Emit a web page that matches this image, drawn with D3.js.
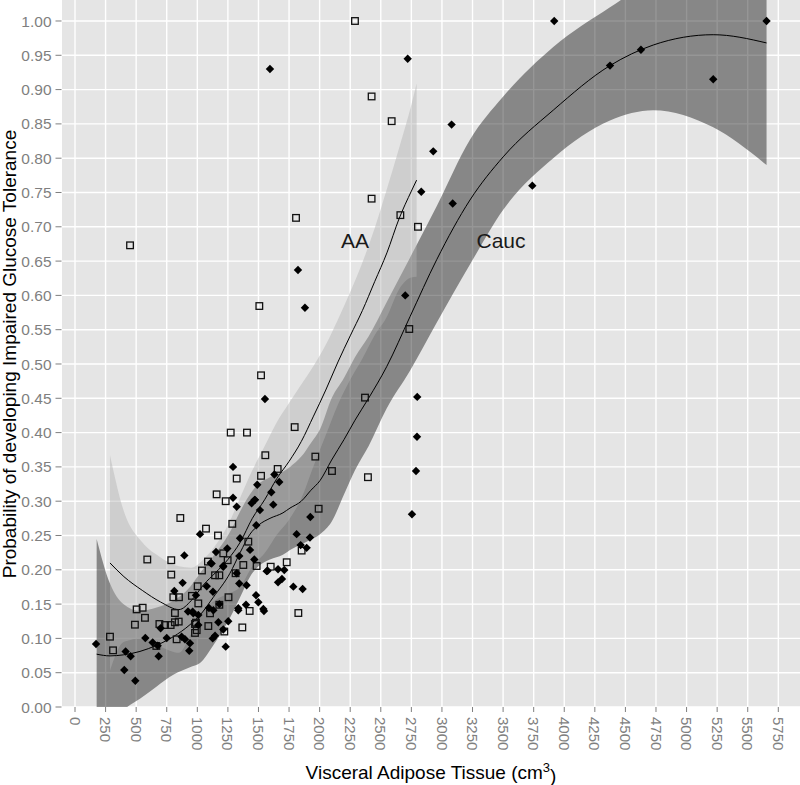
<!DOCTYPE html>
<html>
<head>
<meta charset="utf-8">
<script src="https://cdn.jsdelivr.net/npm/d3@7"></script>
<style>
  body { margin: 0; background: #fff; }
  text { font-family: "Liberation Sans", Arial, sans-serif; }
</style>
</head>
<body>
<div id="chart"></div>
<script>
// fitted curve for AA (smooth + confidence band)
const aaFitX  = [286, 400, 550, 700, 850, 950, 1050, 1150, 1250, 1350, 1450, 1550, 1650, 1750, 1850, 1950, 2050, 2150, 2250, 2350, 2450, 2550, 2650, 2750, 2793]
const aaFitY  = [0.210, 0.190, 0.170, 0.153, 0.142, 0.155, 0.178, 0.196, 0.215, 0.240, 0.275, 0.302, 0.333, 0.358, 0.387, 0.424, 0.462, 0.503, 0.541, 0.578, 0.620, 0.662, 0.712, 0.752, 0.768]
const aaFitHi = [0.367, 0.285, 0.240, 0.218, 0.205, 0.203, 0.215, 0.236, 0.265, 0.305, 0.345, 0.380, 0.415, 0.443, 0.470, 0.497, 0.528, 0.565, 0.605, 0.648, 0.698, 0.755, 0.815, 0.878, 0.909]
const aaFitLo = [0.053, 0.095, 0.100, 0.088, 0.079, 0.107, 0.141, 0.156, 0.165, 0.175, 0.205, 0.224, 0.251, 0.273, 0.304, 0.351, 0.396, 0.441, 0.477, 0.508, 0.542, 0.569, 0.609, 0.626, 0.627]

// fitted curve for Cauc
const caucFitX  = [177, 286, 395, 531, 668, 804, 940, 1022, 1131, 1267, 1350, 1431, 1500, 1594, 1700, 1758, 1850, 1929, 2003, 2098, 2200, 2289, 2400, 2548, 2739, 2957, 3229, 3501, 3910, 4374, 4728, 5218, 5654]
const caucFitY  = [0.077, 0.0745, 0.076, 0.081, 0.090, 0.1025, 0.120, 0.134, 0.160, 0.195, 0.225, 0.252, 0.265, 0.275, 0.283, 0.290, 0.300, 0.316, 0.330, 0.360, 0.390, 0.418, 0.450, 0.496, 0.569, 0.652, 0.739, 0.802, 0.870, 0.935, 0.965, 0.980, 0.968]
const caucFitHi = [0.245, 0.180, 0.150, 0.140, 0.145, 0.155, 0.175, 0.195, 0.220, 0.255, 0.285, 0.310, 0.325, 0.335, 0.343, 0.350, 0.365, 0.385, 0.405, 0.450, 0.480, 0.510, 0.540, 0.590, 0.655, 0.730, 0.827, 0.890, 0.962, 1.020, 1.060, 1.100, 1.150]
const caucFitLo = [-0.090, -0.030, -0.005, 0.012, 0.030, 0.047, 0.058, 0.064, 0.090, 0.130, 0.160, 0.190, 0.205, 0.215, 0.222, 0.229, 0.237, 0.244, 0.252, 0.270, 0.310, 0.345, 0.380, 0.435, 0.490, 0.560, 0.645, 0.725, 0.800, 0.855, 0.870, 0.845, 0.790]

// AA subjects (open squares)
const aaX = [2289, 2425, 2589, 2425, 2660, 2804, 2733, 2371, 450, 1807, 1507, 1521, 1273, 1406, 1796, 1556, 1965, 1657, 2101, 1521, 1322, 2395, 1992,
  1158, 1232, 861, 1286, 1071, 1169, 1417, 1853, 1212, 591, 787, 1087, 1248, 1731, 1376, 1485, 1600, 1038, 787, 1145, 1180, 1313, 1003, 1255,
  804, 850, 956, 1008, 1180, 1428, 1826, 1104, 817, 504, 553, 572, 490, 690, 736, 782, 817, 848, 981, 1090, 1368, 1221, 995, 981, 665, 831, 286, 311, 989]
const aaY = [1.000, 0.890, 0.854, 0.741, 0.717, 0.700, 0.551, 0.451, 0.673, 0.713, 0.5845, 0.4835, 0.400, 0.400, 0.408, 0.367, 0.365, 0.347, 0.344, 0.337, 0.333, 0.335, 0.289,
  0.310, 0.300, 0.2755, 0.267, 0.260, 0.250, 0.241, 0.228, 0.224, 0.215, 0.214, 0.212, 0.214, 0.211, 0.207, 0.2055, 0.2045, 0.199, 0.193, 0.192, 0.192, 0.195, 0.176, 0.160,
  0.160, 0.160, 0.162, 0.151, 0.149, 0.140, 0.137, 0.1366, 0.137, 0.1423, 0.1447, 0.130, 0.120, 0.121, 0.1195, 0.1195, 0.1235, 0.1245, 0.121, 0.118, 0.116, 0.110, 0.112, 0.108, 0.089, 0.0987, 0.1025, 0.0826, 0.123]

// Caucasian subjects (filled diamonds)
const caucX = [2720, 3079, 2929, 3918, 5654, 4374, 4627, 5218, 3739, 3088, 2831, 2700, 2798, 1594, 1823, 1880, 1553, 2796, 2788, 2755,
  1292, 1630, 1670, 1490, 1605, 1469, 1621, 1924, 1512, 1482, 1812, 1921, 1845, 1894, 1567, 1660, 1711, 1692, 1660, 1785, 1861, 1480, 1499, 1540,
  1109, 1212, 1322, 1343, 1403, 1575, 1398, 1335, 1545, 1180, 1253, 1172, 1212, 1145, 1126, 1232, 1131, 1008,
  1292, 1444, 1471, 1322, 1022, 1349, 1431, 1153, 1245, 1343, 1117, 1466, 1212,
  894, 880, 812, 989, 1077, 1128, 924, 967, 1008, 1335, 1095, 575, 635, 676, 684, 750, 872, 899, 940, 934, 700, 172, 414, 455, 403, 493, 962]
const caucY = [0.945, 0.849, 0.810, 1.000, 1.000, 0.935, 0.958, 0.915, 0.760, 0.734, 0.751, 0.600, 0.452, 0.930, 0.637, 0.582, 0.449, 0.394, 0.344, 0.281,
  0.350, 0.339, 0.328, 0.324, 0.313, 0.302, 0.295, 0.277, 0.287, 0.265, 0.252, 0.247, 0.236, 0.232, 0.198, 0.2007, 0.1997, 0.1866, 0.1817, 0.1754, 0.172, 0.163, 0.1526, 0.143,
  0.210, 0.2055, 0.195, 0.180, 0.1774, 0.1987, 0.149, 0.141, 0.140, 0.150, 0.125, 0.1235, 0.113, 0.104, 0.100, 0.088, 0.141, 0.1195,
  0.305, 0.297, 0.302, 0.292, 0.252, 0.246, 0.229, 0.226, 0.231, 0.220, 0.209, 0.215, 0.2045,
  0.221, 0.181, 0.169, 0.163, 0.176, 0.168, 0.1393, 0.1366, 0.134, 0.144, 0.1443, 0.1006, 0.094, 0.0894, 0.074, 0.1006, 0.1025, 0.0987, 0.093, 0.082, 0.1147, 0.0918, 0.081, 0.074, 0.054, 0.0383, 0.139]

const xTicks = d3.range(0, 5751, 250)
const yTicks = d3.range(0, 1.0001, 0.05)

const labels = [
  { text: "AA", x: 2289, y: 0.669 },
  { text: "Cauc", x: 3483, y: 0.669 }
]

function zip(xs, ys, lo, hi) {
  return xs.map((x, i) => ({ x: x, y: ys[i], lo: lo ? lo[i] : null, hi: hi ? hi[i] : null }))
}

function renderChart(frame_id) {
  let width = 800
  let height = 785
  let panel = { left: 62, right: 800, top: 0, bottom: 707 }

  var svg = d3.select("#" + frame_id)
    .append("svg")
    .attr("width", width)
    .attr("height", height)

  var x = d3.scaleLinear().domain([0, 5750]).range([75, 778.3])
  var y = d3.scaleLinear().domain([0, 1.0306]).range([707, 0])

  svg.append("defs").append("clipPath").attr("id", "panel-clip")
    .append("rect")
    .attr("x", panel.left).attr("y", panel.top)
    .attr("width", panel.right - panel.left).attr("height", panel.bottom - panel.top)

  svg.append("rect")
    .attr("x", panel.left).attr("y", panel.top)
    .attr("width", panel.right - panel.left).attr("height", panel.bottom - panel.top)
    .attr("fill", "#e5e5e5")

  // grid
  svg.append("g").selectAll("line.gx")
    .data(xTicks).enter().append("line")
    .attr("x1", d => x(d)).attr("x2", d => x(d))
    .attr("y1", panel.top).attr("y2", panel.bottom)
    .attr("stroke", "#fff").attr("stroke-width", 1.4)
  svg.append("g").selectAll("line.gy")
    .data(yTicks).enter().append("line")
    .attr("x1", panel.left).attr("x2", panel.right)
    .attr("y1", d => y(d)).attr("y2", d => y(d))
    .attr("stroke", "#fff").attr("stroke-width", 1.4)

  var plot = svg.append("g").attr("clip-path", "url(#panel-clip)")

  var band = d3.area()
    .x(d => x(d.x)).y0(d => y(d.lo)).y1(d => y(d.hi))
    .curve(d3.curveMonotoneX)
  var fit = d3.line()
    .x(d => x(d.x)).y(d => y(d.y))
    .curve(d3.curveMonotoneX)

  var caucFit = zip(caucFitX, caucFitY, caucFitLo, caucFitHi)
  var aaFit = zip(aaFitX, aaFitY, aaFitLo, aaFitHi)

  plot.append("path").datum(caucFit)
    .attr("d", band)
    .attr("fill", "#000").attr("fill-opacity", 0.41)
  plot.append("path").datum(aaFit)
    .attr("d", band)
    .attr("fill", "#b2b2b2").attr("fill-opacity", 0.45)

  plot.append("path").datum(caucFit)
    .attr("d", fit).attr("fill", "none")
    .attr("stroke", "#000").attr("stroke-width", 1)
  plot.append("path").datum(aaFit)
    .attr("d", fit).attr("fill", "none")
    .attr("stroke", "#000").attr("stroke-width", 1)

  // points
  plot.selectAll("rect.aa")
    .data(zip(aaX, aaY)).enter().append("rect")
    .attr("x", d => x(d.x) - 3.3).attr("y", d => y(d.y) - 3.3)
    .attr("width", 6.6).attr("height", 6.6)
    .attr("fill", "none").attr("stroke", "#111").attr("stroke-width", 1.3)

  plot.selectAll("path.cauc")
    .data(zip(caucX, caucY)).enter().append("path")
    .attr("transform", d => "translate(" + x(d.x) + "," + y(d.y) + ")")
    .attr("d", "M0,-4.2L4.2,0L0,4.2L-4.2,0Z")
    .attr("fill", "#000")

  svg.selectAll("text.lbl")
    .data(labels).enter().append("text")
    .attr("x", d => x(d.x)).attr("y", d => y(d.y))
    .attr("text-anchor", "middle")
    .style("font-size", "21px")
    .attr("fill", "#1a1a1a")
    .text(d => d.text)

  // y axis
  var yAxis = svg.append("g")
  yAxis.selectAll("line").data(yTicks).enter().append("line")
    .attr("x1", 55.5).attr("x2", 61.5)
    .attr("y1", d => y(d)).attr("y2", d => y(d))
    .attr("stroke", "#7f7f7f").attr("stroke-width", 1)
  yAxis.selectAll("text").data(yTicks).enter().append("text")
    .attr("x", 51.5).attr("y", d => y(d))
    .attr("dy", "0.36em")
    .attr("text-anchor", "end")
    .style("font-size", "15.5px")
    .attr("fill", "#7f7f7f")
    .text(d => d3.format(".2f")(d))

  // x axis
  var xAxis = svg.append("g")
  xAxis.selectAll("line").data(xTicks).enter().append("line")
    .attr("x1", d => x(d)).attr("x2", d => x(d))
    .attr("y1", 707).attr("y2", 712)
    .attr("stroke", "#7f7f7f").attr("stroke-width", 1)
  xAxis.selectAll("text").data(xTicks).enter().append("text")
    .attr("transform", d => "translate(" + x(d) + ",717) rotate(90)")
    .attr("dy", "0.36em")
    .attr("text-anchor", "start")
    .style("font-size", "15px")
    .attr("fill", "#7f7f7f")
    .text(d => d)

  // titles
  var xt = svg.append("text")
    .attr("x", (panel.left + panel.right) / 2).attr("y", 779)
    .attr("text-anchor", "middle")
    .style("font-size", "19px")
    .attr("fill", "#000")
  xt.append("tspan").text("Visceral Adipose Tissue (cm")
  xt.append("tspan").attr("dy", "-0.55em").style("font-size", "13px").text("3")
  xt.append("tspan").attr("dy", "0.55em").text(")")

  svg.append("text")
    .attr("transform", "translate(15.5," + 354 + ") rotate(-90)")
    .attr("text-anchor", "middle")
    .style("font-size", "19px")
    .attr("fill", "#000")
    .text("Probability of developing Impaired Glucose Tolerance")
}

renderChart("chart")
</script>
</body>
</html>
